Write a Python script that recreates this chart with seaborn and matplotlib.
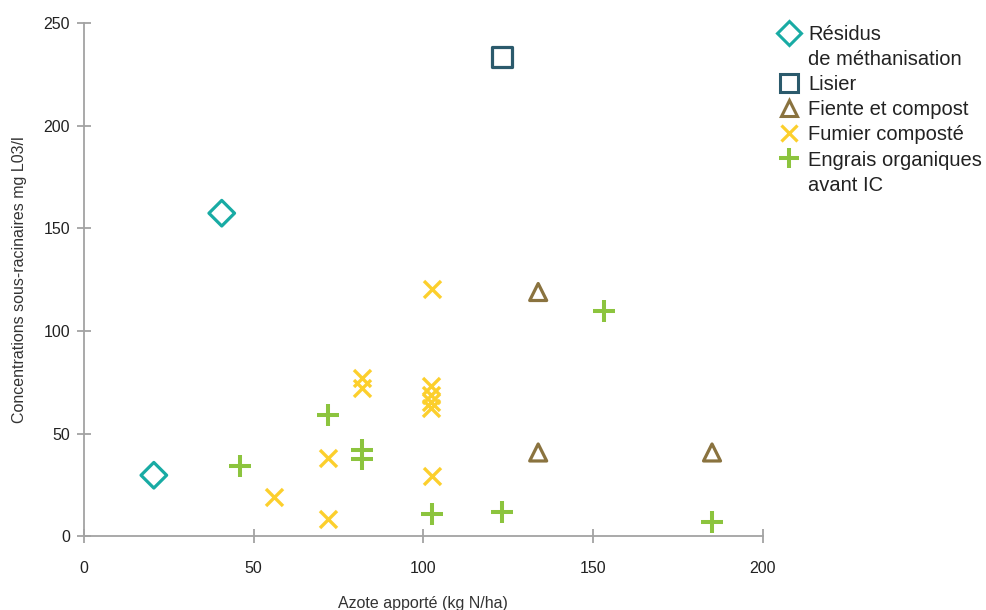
import numpy as np
import pandas as pd
import matplotlib
matplotlib.use("Agg")
import matplotlib.pyplot as plt
from matplotlib.lines import Line2D
import seaborn as sns

# Données
residus_x = [40.6, 20.6]
residus_y = [157.4, 29.7]

lisier_x = [123.1]
lisier_y = [233.4]

fiente_x = [133.8, 133.8, 185.0]
fiente_y = [119.0, 40.8, 40.8]

fumier_x = [102.4, 81.9, 81.9, 102.2, 102.2, 102.2, 102.2, 71.9, 56.0, 71.9, 102.4]
fumier_y = [120.4, 77.0, 72.0, 73.0, 69.0, 65.5, 62.5, 38.2, 19.2, 8.3, 29.3]

engrais_x = [45.9, 71.9, 82.0, 82.0, 102.4, 123.0, 153.1, 185.0]
engrais_y = [34.3, 59.0, 42.2, 37.5, 10.7, 11.7, 109.6, 6.8]

labels = ["Résidus\nde méthanisation", "Lisier", "Fiente et compost",
          "Fumier composté", "Engrais organiques\navant IC"]
colors = ["#18aba4", "#2b5a6c", "#8a733f", "#fccf2c", "#8cc43e"]

sns.set_theme(style="white")
plt.rcParams["font.family"] = ["Liberation Sans", "DejaVu Sans"]

fig = plt.figure(figsize=(9.87, 6.10), dpi=100)
ax = fig.add_axes([0.085, 0.121, 0.688, 0.841])

# marqueurs creux
sns.scatterplot(x=residus_x, y=residus_y, marker="D", s=170, facecolor="none",
                edgecolor=colors[0], linewidth=2.3, ax=ax, zorder=3)
sns.scatterplot(x=lisier_x, y=lisier_y, marker="s", s=200, facecolor="none",
                edgecolor=colors[1], linewidth=2.3, ax=ax, zorder=3)
sns.scatterplot(x=fiente_x, y=fiente_y, marker="^", s=150, facecolor="none",
                edgecolor=colors[2], linewidth=2.3, ax=ax, zorder=3)
# marqueurs en traits
sns.scatterplot(x=fumier_x, y=fumier_y, marker="x", s=150, color=colors[3],
                linewidth=2.4, ax=ax, zorder=3)
sns.scatterplot(x=engrais_x, y=engrais_y, marker="+", s=240, color=colors[4],
                linewidth=2.9, ax=ax, zorder=3)

ax.set_xlim(0, 200)
ax.set_ylim(0, 250)
ax.set_xticks([0, 50, 100, 150, 200])
ax.set_yticks([0, 50, 100, 150, 200, 250])

sns.despine(ax=ax)
for sp in ["left", "bottom"]:
    ax.spines[sp].set_color("#a3a3a3")
    ax.spines[sp].set_linewidth(1.3)

ax.tick_params(axis="both", direction="inout", length=10, width=1.3,
               color="#a3a3a3", labelsize=11.5, labelcolor="#222222",
               bottom=True, left=True)
ax.tick_params(axis="x", pad=13)
ax.tick_params(axis="y", pad=5)

ax.set_xlabel("Azote apporté (kg N/ha)", fontsize=11.5, color="#333333", labelpad=14)
ax.set_ylabel("Concentrations sous-racinaires mg L03/l", fontsize=11.5,
              color="#333333", labelpad=12)

# légende: une ligne vide pour les libellés sur deux lignes
blank = Line2D([], [], linestyle="none", marker="none")
handles = [
    Line2D([], [], linestyle="none", marker="D", markersize=12, markerfacecolor="none",
           markeredgecolor=colors[0], markeredgewidth=2.2),
    blank,
    Line2D([], [], linestyle="none", marker="s", markersize=13, markerfacecolor="none",
           markeredgecolor=colors[1], markeredgewidth=2.2),
    Line2D([], [], linestyle="none", marker="^", markersize=11, markerfacecolor="none",
           markeredgecolor=colors[2], markeredgewidth=2.2),
    Line2D([], [], linestyle="none", marker="x", markersize=11,
           markeredgecolor=colors[3], markeredgewidth=2.3),
    Line2D([], [], linestyle="none", marker="+", markersize=14,
           markeredgecolor=colors[4], markeredgewidth=2.9),
    blank,
]
leg_labels = []
for lab in labels:
    leg_labels.extend(lab.split("\n"))
fig.legend(handles, leg_labels, loc="upper left", bbox_to_anchor=(0.778, 0.975),
           frameon=False, fontsize=14.5, labelspacing=0.3, handlelength=1.1,
           handletextpad=0.4, borderpad=0, labelcolor="#222222")

fig.savefig("out.png", dpi=100)
